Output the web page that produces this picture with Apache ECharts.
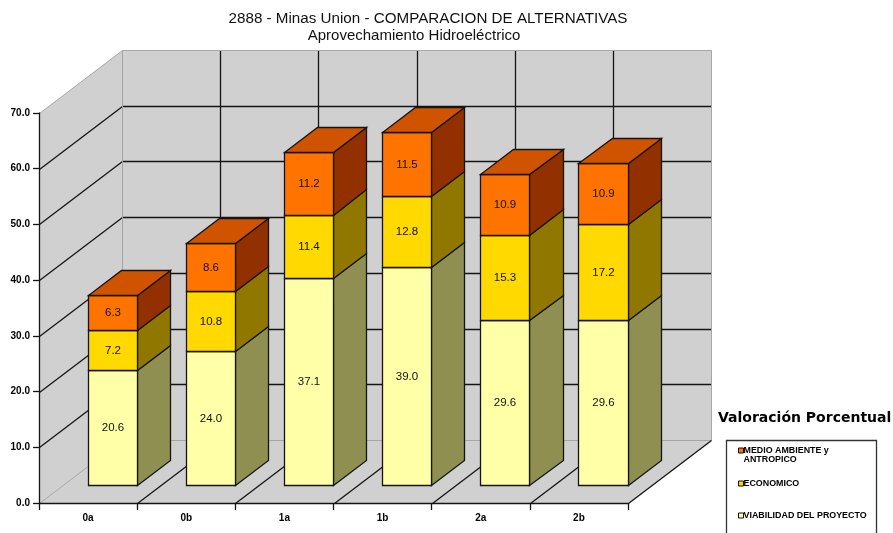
<!DOCTYPE html>
<html>
<head>
<meta charset="utf-8">
<style>html,body{margin:0;padding:0;background:#fff}#c{width:893px;height:533px}</style>
<script src="https://cdn.jsdelivr.net/npm/echarts@6/dist/echarts.min.js"></script>
</head>
<body>
<div id="c"></div>
<script>
const categories = ['0a', '0b', '1a', '1b', '2a', '2b'];
const yTicks = [0, 10, 20, 30, 40, 50, 60, 70];
const viabilidad = [20.6, 24.0, 37.1, 39.0, 29.6, 29.6];
const economico = [7.2, 10.8, 11.4, 12.8, 15.3, 17.2];
const medioAmbiente = [6.3, 8.6, 11.2, 11.5, 10.9, 10.9];
const nameMedio = 'MEDIO AMBIENTE y\nANTROPICO';
const nameEco = 'ECONOMICO';
const nameViab = 'VIABILIDAD DEL PROYECTO';

const DX = 83, DY = 63, Z0 = 0.29, Z1 = 0.69, BAR = 0.5, LW = 1.3;
const SANS = '"Liberation Sans", Arial, sans-serif';
const snap = v => Math.round(v) + 0.5;

function project(api, cat, val, z) {
  const band = api.size([1, 0])[0];
  const p = api.coord([0, val]);
  return [snap(p[0] + cat * band + z * DX), snap(p[1] - z * DY)];
}
function poly(points, fill, stroke) {
  return { type: 'polygon', shape: { points }, style: { fill, stroke: stroke || 'none', lineWidth: LW } };
}
function line(a, b, stroke, lw) {
  return { type: 'line', shape: { x1: a[0], y1: a[1], x2: b[0], y2: b[1] }, style: { stroke, lineWidth: lw || LW } };
}

function renderScene(params, api) {
  const n = categories.length, L = -0.5, R = n - 0.5;
  const yMax = yTicks[yTicks.length - 1];
  const wall = '#d0d0d0', edge = '#a6a6a6', ink = '#141414';
  const P = (c, v, z) => project(api, c, v, z);
  const kids = [
    poly([P(L, 0, 0), P(L, yMax, 0), P(L, yMax, 1), P(L, 0, 1)], wall),
    poly([P(L, 0, 1), P(L, yMax, 1), P(R, yMax, 1), P(R, 0, 1)], wall),
    poly([P(L, 0, 0), P(L, 0, 1), P(R, 0, 1), P(R, 0, 0)], wall)
  ];
  yTicks.slice(1, -1).forEach(t => {
    kids.push(line(P(L, t, 0), P(L, t, 1), ink));
    kids.push(line(P(L, t, 1), P(R, t, 1), ink));
  });
  for (let i = 1; i < n; i++) {
    kids.push(line(P(L + i, 0, 1), P(L + i, yMax, 1), ink));
    kids.push(line(P(L + i, 0, 0), P(L + i, 0, 1), ink));
  }
  kids.push(line(P(L, yMax, 0), P(L, yMax, 1), edge, 1));
  kids.push(line(P(L, yMax, 1), P(R, yMax, 1), edge, 1));
  kids.push(line(P(L, 0, 1), P(L, yMax, 1), edge, 1));
  kids.push(line(P(R, 0, 1), P(R, yMax, 1), edge, 1));
  kids.push(line(P(L, 0, 1), P(R, 0, 1), edge, 1));
  kids.push(line(P(L, 0, 0), P(L, 0, 1), edge, 1));
  kids.push(line(P(R, 0, 0), P(R, 0, 1), ink));
  return { type: 'group', children: kids };
}

function barRenderer(front, side, top) {
  return function (params, api) {
    const c = api.value(0), base = api.value(1), val = api.value(2);
    const l = c - BAR / 2, r = c + BAR / 2, v0 = base, v1 = base + val;
    const P = (x, v, z) => project(api, x, v, z);
    const ink = '#141414';
    const kids = [
      poly([P(r, v0, Z0), P(r, v0, Z1), P(r, v1, Z1), P(r, v1, Z0)], side, ink),
      poly([P(l, v0, Z0), P(r, v0, Z0), P(r, v1, Z0), P(l, v1, Z0)], front, ink)
    ];
    if (top) kids.push(poly([P(l, v1, Z0), P(r, v1, Z0), P(r, v1, Z1), P(l, v1, Z1)], top, ink));
    const a = P(l, v0, Z0), b = P(r, v1, Z0);
    kids.push({
      type: 'text',
      style: {
        x: (a[0] + b[0]) / 2, y: (a[1] + b[1]) / 2,
        text: val.toFixed(1), align: 'center', verticalAlign: 'middle',
        fill: '#111', font: '11.5px ' + SANS
      }
    });
    return { type: 'group', children: kids };
  };
}

function stack(vals, below) {
  return vals.map((v, i) => [i, below.reduce((s, arr) => s + arr[i], 0), v]);
}
function barSeries(name, vals, below, front, side, top) {
  return {
    type: 'custom', name, coordinateSystem: 'cartesian2d', clip: false, silent: true,
    itemStyle: { color: front },
    encode: { x: 0, y: 2 },
    data: stack(vals, below),
    renderItem: barRenderer(front, side, top)
  };
}
function legendAt(name, top, prefix) {
  return {
    data: [name], left: 738, top, padding: 0, itemWidth: 5, itemHeight: 5,
    icon: 'rect', selectedMode: false,
    formatter: n => prefix + n,
    itemStyle: { borderColor: '#111', borderWidth: 1 },
    textStyle: { color: '#000', fontFamily: SANS, fontWeight: 'bold', fontSize: 8.9, lineHeight: 9, padding: [0, 0, 0, -5] }
  };
}

const chart = echarts.init(document.getElementById('c'), null, { renderer: 'canvas' });
chart.setOption({
  animation: false,
  backgroundColor: '#fff',
  title: [
    { text: '2888 - Minas Union - COMPARACION DE ALTERNATIVAS', left: 428, top: 11, padding: 0, textAlign: 'center',
      textStyle: { color: '#111', fontFamily: SANS, fontWeight: 'normal', fontSize: 15.2 } },
    { text: 'Aprovechamiento Hidroeléctrico', left: 414, top: 28, padding: 0, textAlign: 'center',
      textStyle: { color: '#111', fontFamily: SANS, fontWeight: 'normal', fontSize: 15 } },
    { text: 'Valoración Porcentual', left: 718, top: 411, padding: 0,
      textStyle: { color: '#000', fontFamily: '"DejaVu Sans", sans-serif', fontWeight: 'bold', fontSize: 14 } }
  ],
  legend: [legendAt(nameMedio, 437, '\n'), legendAt(nameEco, 479, ''), legendAt(nameViab, 511, '')],
  grid: { left: 39, right: 265, top: 113, bottom: 30, containLabel: false },
  xAxis: {
    type: 'category', data: categories, z: 6,
    axisLine: { lineStyle: { color: '#141414', width: 1.3 } },
    axisTick: { show: true, length: 7, lineStyle: { color: '#141414', width: 1.3 } },
    axisLabel: { margin: 10, color: '#000', fontFamily: SANS, fontWeight: 'bold', fontSize: 10 },
    splitLine: { show: false }
  },
  yAxis: {
    type: 'value', min: 0, max: 70, interval: 10, z: 6,
    axisLine: { show: true, lineStyle: { color: '#141414', width: 1.3 } },
    axisTick: { show: true, length: 6, lineStyle: { color: '#141414', width: 1.3 } },
    axisLabel: { margin: 9, color: '#000', fontFamily: SANS, fontWeight: 'bold', fontSize: 10, formatter: v => v.toFixed(1) },
    splitLine: { show: false }
  },
  graphic: [{
    type: 'rect', z: 1, silent: true,
    shape: { x: 726.5, y: 440.5, width: 150, height: 110 },
    style: { fill: 'none', stroke: '#333', lineWidth: 1.3 }
  }],
  series: [
    { type: 'custom', name: 'scene', coordinateSystem: 'cartesian2d', clip: false, silent: true, z: 1,
      encode: { x: 0, y: 1 }, data: [[0, 0]], renderItem: renderScene },
    barSeries(nameViab, viabilidad, [], '#ffffa8', '#8f8f52'),
    barSeries(nameEco, economico, [viabilidad], '#ffd900', '#8f7700'),
    barSeries(nameMedio, medioAmbiente, [viabilidad, economico], '#ff7300', '#923000', '#d05300')
  ]
});
</script>
</body>
</html>
